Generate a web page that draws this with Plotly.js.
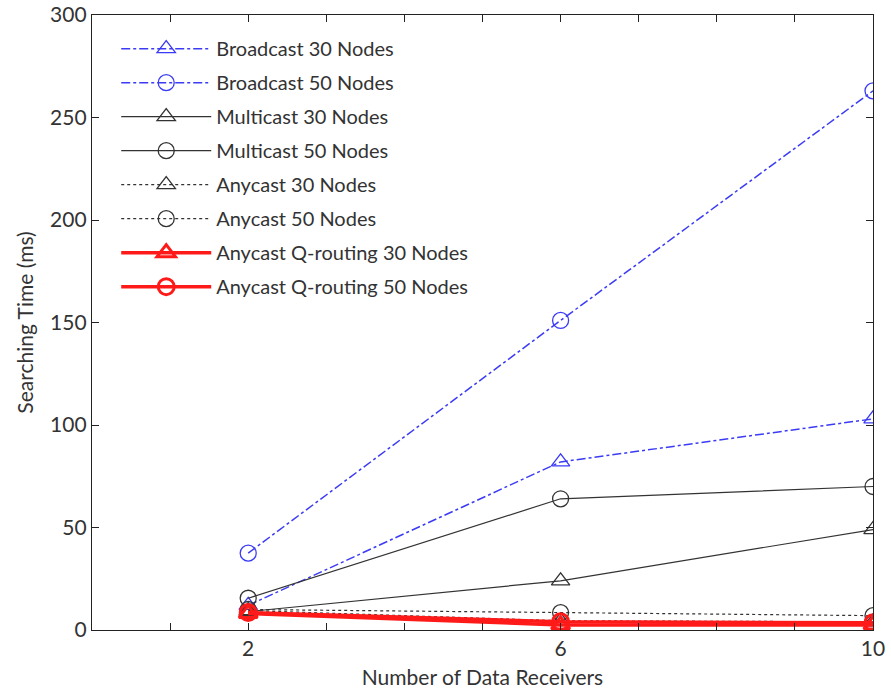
<!DOCTYPE html>
<html>
<head>
<meta charset="utf-8">
<script src="https://cdn.plot.ly/plotly-3.0.1.min.js"></script>
<style>html,body{margin:0;padding:0;background:#fff;}#chart{width:891px;height:698px;}</style>
</head>
<body>
<div id="chart"></div>
<script>
const receivers = [2, 6, 10];
const broadcast30 = [12, 82, 103];
const broadcast50 = [37.5, 151, 263];
const multicast30 = [9, 24, 49];
const multicast50 = [15.5, 64, 70];
const anycast30 = [9.5, 4.5, 4];
const anycast50 = [10, 8.5, 7];
const qrouting30 = [8, 2.5, 2.5];
const qrouting50 = [8.5, 4, 3.5];
const xTickVals = [1, 2, 3, 4, 5, 6, 7, 8, 9, 10];
const xTickText = ['', '2', '', '', '', '6', '', '', '', '10'];

const FONT = 'Lato, "Open Sans", sans-serif';
const blue = '#3b3bf5';
function tr(name, y, color, dash, width, symbol, msize, mwidth) {
  return {
    x: receivers, y: y, name: name, type: 'scatter', mode: 'lines+markers',
    legendgroup: name,
    line: {color: color, dash: dash, width: width},
    marker: {symbol: symbol, size: msize, color: color, line: {color: color, width: mwidth}}
  };
}
const data = [
  tr('Broadcast 30 Nodes', broadcast30, blue, 'dashdot', 1.5, 'triangle-up-open', 16, 1.3),
  tr('Broadcast 50 Nodes', broadcast50, blue, 'dashdot', 1.5, 'circle-open', 16, 1.3),
  tr('Multicast 30 Nodes', multicast30, '#333333', 'solid', 1.2, 'triangle-up-open', 16, 1.3),
  tr('Multicast 50 Nodes', multicast50, '#333333', 'solid', 1.2, 'circle-open', 16, 1.3),
  tr('Anycast 30 Nodes', anycast30, '#333333', 'dot', 1.2, 'triangle-up-open', 16, 1.3),
  tr('Anycast 50 Nodes', anycast50, '#333333', 'dot', 1.2, 'circle-open', 16, 1.3),
  tr('Anycast Q-routing 30 Nodes', qrouting30, '#ff1a1a', 'solid', 3.5, 'triangle-up-open', 16, 3),
  tr('Anycast Q-routing 50 Nodes', qrouting50, '#ff1a1a', 'solid', 3.5, 'circle-open', 16, 3)
];

const axisCommon = {
  showgrid: false, zeroline: false, showline: true, mirror: 'allticks',
  linecolor: '#222', linewidth: 1.3, ticks: 'inside', ticklen: 7, tickcolor: '#222',
  tickfont: {family: FONT, size: 21, color: '#333'}
};
const layout = {
  width: 891, height: 698,
  margin: {l: 92, r: 18, t: 15, b: 68},
  paper_bgcolor: '#fff', plot_bgcolor: '#fff',
  font: {family: FONT, color: '#333'},
  showlegend: true,
  legend: {
    x: 0.031, y: 0.977, xanchor: 'left', yanchor: 'top',
    bgcolor: 'rgba(255,255,255,0)', borderwidth: 0,
    font: {family: FONT, size: 20, color: '#333'},
    itemwidth: 90, tracegroupgap: 5
  },
  xaxis: Object.assign({}, axisCommon, {
    range: [0, 10], tickmode: 'array', tickvals: xTickVals, ticktext: xTickText,
    title: {text: 'Number of Data Receivers', font: {family: FONT, size: 21, color: '#333'}, standoff: 10}
  }),
  yaxis: Object.assign({}, axisCommon, {
    range: [0, 300], tickmode: 'array', tickvals: [0, 50, 100, 150, 200, 250, 300],
    title: {text: 'Searching Time (ms)', font: {family: FONT, size: 21, color: '#333'}, standoff: 10}
  })
};
Plotly.newPlot('chart', data, layout, {displayModeBar: false, responsive: false});
</script>
</body>
</html>
